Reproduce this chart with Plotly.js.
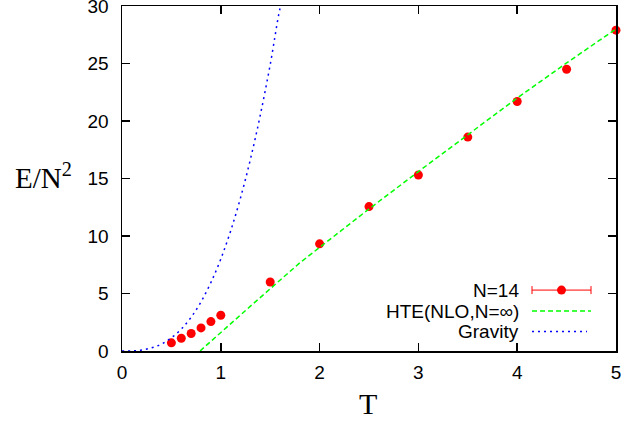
<!DOCTYPE html>
<html>
<head>
<meta charset="utf-8">
<script src="https://cdn.plot.ly/plotly-3.0.1.min.js"></script>
<style>html,body{margin:0;padding:0;background:#fff;}#chart{width:623px;height:421px;}</style>
</head>
<body>
<div id="chart"></div>
<script>
// N=14 Monte Carlo data
var T_data = [0.5, 0.6, 0.7, 0.8, 0.9, 1.0, 1.5, 2.0, 2.5, 3.0, 3.5, 4.0, 4.5, 5.0];
var E_data = [0.71, 1.11, 1.52, 2.01, 2.56, 3.11, 6.0, 9.32, 12.56, 15.3, 18.6, 21.7, 24.5, 27.9];
// HTE (NLO, N=inf) curve
var T_hte = [0.79, 1.0, 1.3, 1.8, 2.5, 3.0, 3.5, 4.0, 4.5, 5.0];
var E_hte = [0, 1.62, 3.9, 7.67, 12.35, 15.6, 18.8, 22.0, 25.05, 28.0];
// Gravity curve
var T_grav = [0, 0.1, 0.2, 0.3, 0.4, 0.5, 0.6, 0.7, 0.8, 0.9, 1.0, 1.1, 1.2, 1.3, 1.4, 1.5, 1.6, 1.62];
var E_grav = [0, 0.01, 0.09, 0.28, 0.61, 1.15, 1.91, 2.94, 4.28, 5.96, 8.0, 10.45, 13.33, 16.68, 20.52, 24.9, 29.8, 30.3];
// legend labels
var legendLabels = ["N=14", "HTE(NLO,N=\u221E)", "Gravity"];
var xTicks = [0, 1, 2, 3, 4, 5];
var yTicks = [0, 5, 10, 15, 20, 25, 30];

var red = "#ff0000", green = "#00ff00", blue = "#0000ff";
var sans = "Liberation Sans, Arial, sans-serif";
var serif = "Liberation Serif, Times New Roman, serif";

var traces = [
  {x: T_data, y: E_data, type: "scatter", mode: "markers",
   marker: {color: red, size: 9}, cliponaxis: false, showlegend: false},
  {x: T_hte, y: E_hte, type: "scatter", mode: "lines",
   line: {color: green, width: 1.5, dash: "5px,3px"}, showlegend: false},
  {x: T_grav, y: E_grav, type: "scatter", mode: "lines",
   line: {color: blue, width: 1.5, dash: "2px,4px", shape: "spline"}, showlegend: false}
];

function px2x(p){ return (p - 122) / 494; }
function py2y(p){ return (351.5 - p) / 345.5; }

var rows = [290.5, 311.5, 332];
var shapes = [], annotations = [];
// legend line samples
shapes.push({type: "line", xref: "paper", yref: "paper", x0: px2x(532), x1: px2x(591), y0: py2y(rows[0]), y1: py2y(rows[0]), line: {color: red, width: 1}});
shapes.push({type: "line", xref: "paper", yref: "paper", x0: px2x(532), x1: px2x(532), y0: py2y(rows[0]-4), y1: py2y(rows[0]+4), line: {color: red, width: 1}});
shapes.push({type: "line", xref: "paper", yref: "paper", x0: px2x(591), x1: px2x(591), y0: py2y(rows[0]-4), y1: py2y(rows[0]+4), line: {color: red, width: 1}});
shapes.push({type: "circle", xref: "paper", yref: "paper", xsizemode: "pixel", ysizemode: "pixel",
  xanchor: px2x(561.5), yanchor: py2y(rows[0]), x0: -4.5, x1: 4.5, y0: -4.5, y1: 4.5,
  fillcolor: red, line: {color: red, width: 0}});
shapes.push({type: "line", xref: "paper", yref: "paper", x0: px2x(532), x1: px2x(591), y0: py2y(rows[1]), y1: py2y(rows[1]), line: {color: green, width: 1.5, dash: "5px,3px"}});
shapes.push({type: "line", xref: "paper", yref: "paper", x0: px2x(532), x1: px2x(587), y0: py2y(rows[2]), y1: py2y(rows[2]), line: {color: blue, width: 1.5, dash: "2px,4px"}});

for (var i = 0; i < 3; i++) {
  annotations.push({xref: "paper", yref: "paper", x: px2x(520), y: py2y(rows[i]), xanchor: "right", yanchor: "middle",
    text: legendLabels[i], showarrow: false, borderpad: 0, font: {family: sans, size: 19, color: "#000"}});
}
annotations.push({xref: "paper", yref: "paper", x: px2x(368), y: py2y(404), xanchor: "center", yanchor: "middle",
  text: "T", showarrow: false, borderpad: 0, font: {family: serif, size: 30, color: "#000"}});
annotations.push({xref: "paper", yref: "paper", x: px2x(43), y: py2y(176), xanchor: "center", yanchor: "middle",
  text: "E/N<sup>2</sup>", showarrow: false, borderpad: 0, font: {family: serif, size: 29, color: "#000"}});

var axisCommon = {
  showgrid: false, zeroline: false, showline: true, linecolor: "#000", linewidth: 1.5,
  mirror: "ticks", ticks: "inside", ticklen: 8, tickwidth: 1.5, tickcolor: "#000",
  ticklabeloverflow: "allow",
  tickfont: {family: sans, size: 19, color: "#000"}
};

var layout = {
  width: 623, height: 421,
  margin: {l: 122, r: 7, t: 6, b: 69.5, pad: 0},
  paper_bgcolor: "#fff", plot_bgcolor: "#fff",
  showlegend: false,
  xaxis: Object.assign({}, axisCommon, {range: [0, 5], tickvals: xTicks, ticktext: xTicks.map(String), ticklabelstandoff: 4}),
  yaxis: Object.assign({}, axisCommon, {range: [0, 30], tickvals: yTicks, ticktext: yTicks.map(String), ticklabelstandoff: 8}),
  shapes: shapes,
  annotations: annotations
};

Plotly.newPlot("chart", traces, layout, {staticPlot: true, displayModeBar: false});
</script>
</body>
</html>
